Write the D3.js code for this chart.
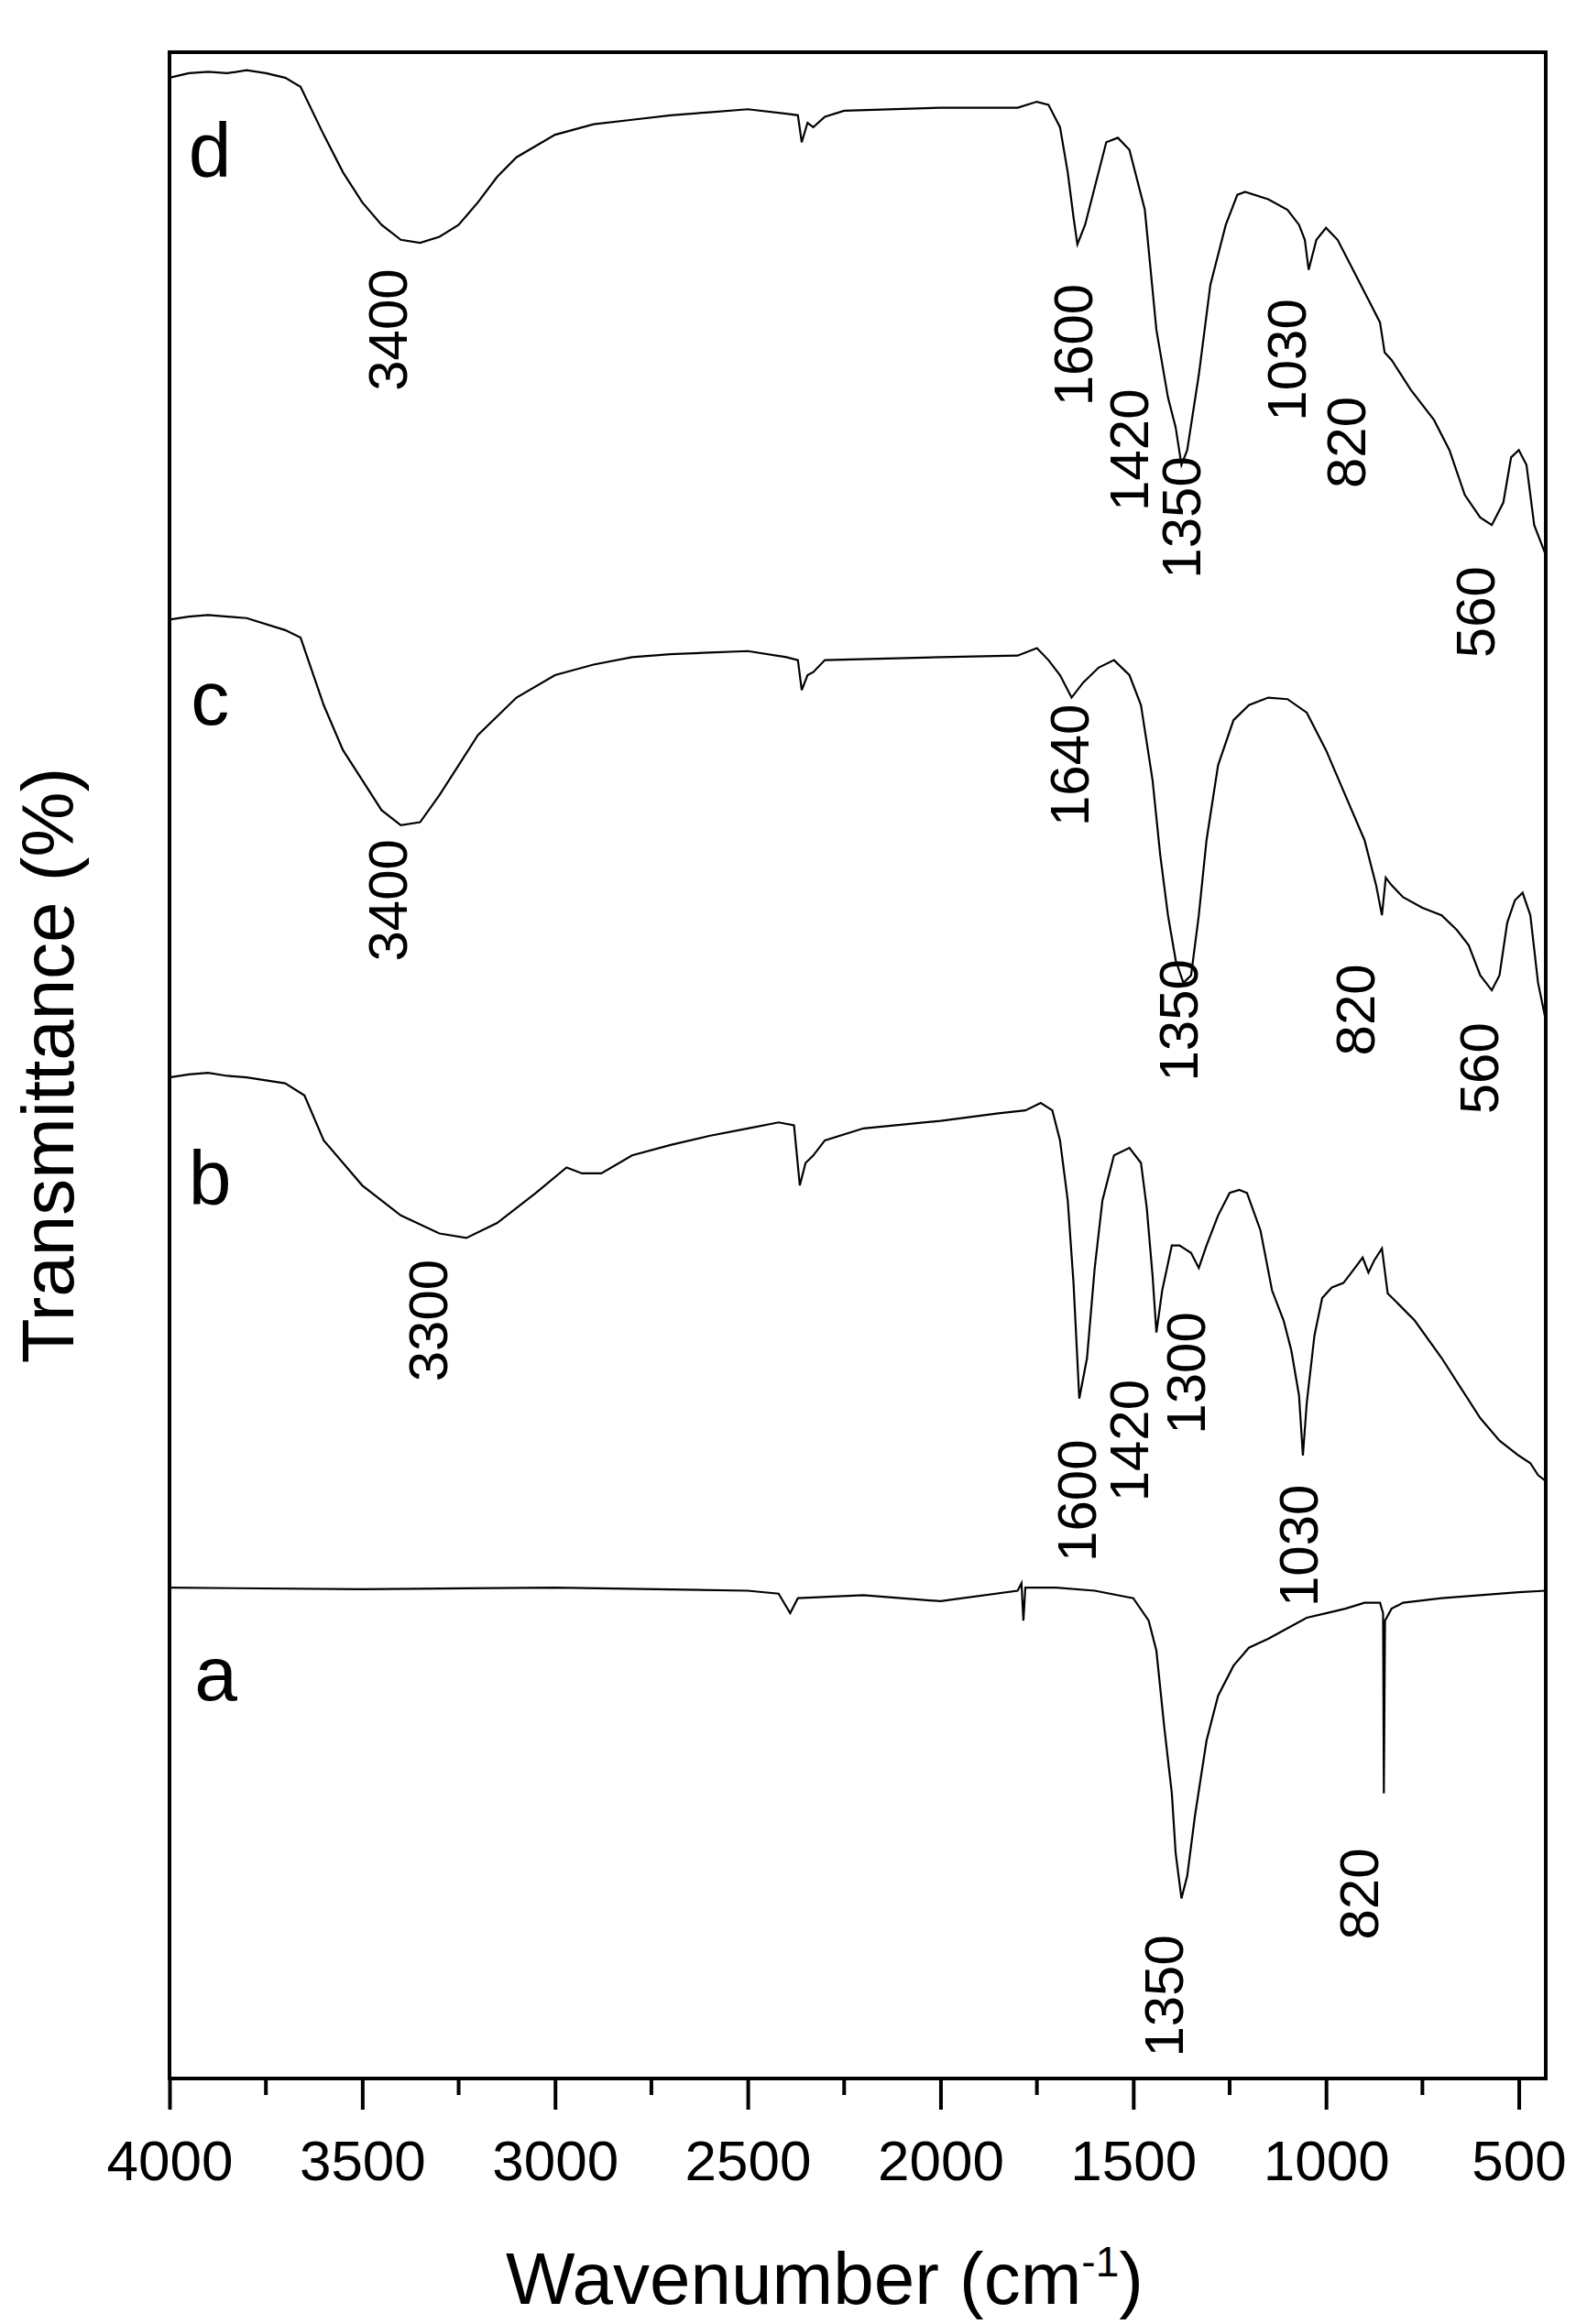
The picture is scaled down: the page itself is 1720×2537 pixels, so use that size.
<!DOCTYPE html>
<html><head><meta charset="utf-8">
<script src="https://cdn.jsdelivr.net/npm/d3@7"></script>
<style>body{margin:0;background:#fff}</style>
</head><body>
<svg id="c" width="1720" height="2537"></svg>
<script>
const xTicks=[4000,3500,3000,2500,2000,1500,1000,500];
const curveD=[[4000,1333],[3950,1336],[3900,1337],[3850,1336],[3800,1338],[3750,1336],[3700,1333],[3660,1327],[3600,1295],[3550,1270],[3500,1250],[3450,1235],[3400,1225],[3350,1223],[3300,1227],[3250,1235],[3200,1250],[3150,1267],[3100,1280],[3000,1295],[2900,1302],[2800,1305],[2700,1308],[2600,1310],[2500,1312],[2400,1309],[2370,1308],[2360,1290],[2345,1303],[2330,1300],[2300,1307],[2250,1311],[2000,1313],[1800,1313],[1750,1317],[1720,1315],[1690,1300],[1670,1270],[1655,1240],[1645,1222],[1625,1235],[1595,1265],[1570,1290],[1540,1293],[1510,1285],[1470,1245],[1440,1165],[1410,1120],[1390,1100],[1375,1075],[1360,1085],[1330,1135],[1300,1195],[1260,1235],[1230,1255],[1210,1257],[1150,1252],[1100,1245],[1070,1235],[1055,1225],[1045,1205],[1025,1225],[1000,1233],[970,1225],[930,1205],[890,1185],[860,1170],[848,1150],[830,1145],[780,1125],[720,1105],[680,1085],[640,1055],[600,1040],[570,1035],[540,1050],[520,1080],[500,1085],[480,1075],[460,1035],[430,1015]];
const curveC=[[4000,972],[3950,974],[3900,975],[3850,974],[3800,973],[3700,965],[3660,960],[3600,915],[3550,885],[3500,865],[3450,845],[3400,835],[3350,837],[3300,855],[3250,875],[3200,895],[3100,920],[3000,935],[2900,942],[2800,947],[2700,949],[2600,950],[2500,951],[2400,947],[2370,945],[2360,925],[2345,935],[2330,937],[2300,945],[2000,947],[1800,948],[1750,953],[1720,945],[1690,935],[1660,920],[1630,930],[1590,940],[1550,945],[1510,935],[1480,915],[1450,865],[1430,815],[1410,775],[1390,745],[1370,730],[1350,735],[1330,775],[1310,825],[1280,875],[1240,905],[1200,915],[1150,920],[1100,919],[1050,910],[1000,885],[950,855],[900,825],[870,795],[855,775],[845,800],[830,795],[800,787],[750,780],[700,775],[660,765],[630,755],[600,735],[570,725],[550,735],[530,770],[510,785],[490,790],[470,775],[450,730],[430,705]];
const curveB=[[4000,667],[3950,669],[3900,670],[3850,668],[3800,667],[3700,663],[3650,655],[3600,625],[3500,595],[3400,575],[3300,563],[3230,560],[3150,570],[3050,590],[2970,607],[2930,603],[2880,603],[2800,615],[2700,622],[2600,628],[2500,633],[2420,637],[2380,635],[2365,595],[2350,610],[2330,615],[2300,625],[2200,633],[2000,638],[1850,643],[1780,645],[1740,650],[1710,645],[1690,625],[1670,585],[1655,530],[1640,453],[1620,480],[1600,540],[1580,585],[1550,615],[1510,620],[1480,610],[1465,580],[1450,535],[1440,497],[1425,525],[1400,555],[1380,555],[1350,550],[1330,540],[1310,555],[1280,575],[1250,590],[1225,592],[1205,590],[1170,565],[1140,525],[1110,505],[1090,485],[1070,455],[1060,415],[1050,450],[1030,495],[1010,520],[985,527],[955,530],[925,540],[905,547],[890,537],[875,545],[855,553],[840,523],[820,518],[770,505],[700,480],[650,460],[600,440],[550,425],[500,415],[470,410],[450,402],[430,398]];
const curveA=[[4000,327],[3500,326],[3000,327],[2500,325],[2420,323],[2390,310],[2370,320],[2200,322],[2000,318],[1800,325],[1790,330],[1785,305],[1780,327],[1700,327],[1600,325],[1500,320],[1460,305],[1440,285],[1420,235],[1400,190],[1390,150],[1375,120],[1360,135],[1340,175],[1310,225],[1280,255],[1240,275],[1200,287],[1150,293],[1100,300],[1050,307],[1000,310],[950,313],[900,317],[860,317],[852,310],[850,190],[847,305],[830,313],[800,317],[700,320],[600,322],[500,324],[430,325]];
const letters=[["d",3895,1285],["c",3895,920],["b",3895,600],["a",3880,270]];
const peaks=[["3400",3435,1165],["1600",1656,1155],["1420",1512,1085],["1350",1375,1040],["1030",1103,1145],["820",947,1090],["560",612,977],
["3400",3435,785],["1640",1667,875],["1350",1383,705],["820",924,712],["560",604,673],
["3300",3330,505],["1600",1648,385],["1420",1512,425],["1300",1364,470],["1030",1072,355],
["1350",1422,55],["820",916,123]];

const svg=d3.select("#c");
const L=185,R=1687,T=57,B=2269;
const x=d3.scaleLinear().domain([4000,430]).range([L,R]);
const y=d3.scaleLinear().domain([0,1350]).range([B,T]);
const F="Liberation Sans, Arial, sans-serif";
const line=d3.line().x(d=>x(d[0])).y(d=>y(d[1]));
[curveD,curveC,curveB,curveA].forEach(c=>svg.append("path").attr("d",line(c)).attr("fill","none").attr("stroke","#000").attr("stroke-width",2.2));
svg.append("rect").attr("x",L).attr("y",T).attr("width",R-L).attr("height",B-T).attr("fill","none").attr("stroke","#000").attr("stroke-width",4);
const ax=svg.append("g").attr("transform",`translate(0,${B})`).call(d3.axisBottom(x).tickValues(xTicks).tickSize(34).tickSizeOuter(0).tickFormat(d3.format("d")));
ax.select(".domain").remove();
ax.selectAll(".tick line").attr("stroke-width",4);
ax.selectAll("text").attr("font-family",F).attr("font-size",62).attr("dy","1.2em").attr("fill","#000");
svg.append("g").attr("transform",`translate(0,${B})`).selectAll("line").data(d3.range(3750,430,-500)).join("line")
 .attr("x1",d=>x(d)).attr("x2",d=>x(d)).attr("y1",0).attr("y2",18).attr("stroke","#000").attr("stroke-width",4);
svg.append("text").attr("x",900).attr("y",2515).attr("text-anchor","middle").attr("font-family",F).attr("font-size",80)
 .html('Wavenumber (cm<tspan dy="-30" font-size="46">-1</tspan><tspan dy="30">)</tspan>');
svg.append("text").attr("transform","translate(80,1163) rotate(-90)").attr("text-anchor","middle").attr("font-family",F).attr("font-size",80).text("Transmittance (%)");
svg.selectAll(".lt").data(letters).join("text").attr("x",d=>x(d[1])).attr("y",d=>y(d[2])).attr("dy","0.35em").attr("text-anchor","middle")
 .attr("font-family",F).attr("font-size",84).text(d=>d[0]);
svg.selectAll(".pk").data(peaks).join("text").attr("transform",d=>`translate(${x(d[1])},${y(d[2])}) rotate(-90)`).attr("dy","0.35em")
 .attr("text-anchor","middle").attr("font-family",F).attr("font-size",60).text(d=>d[0]);
</script></body></html>
